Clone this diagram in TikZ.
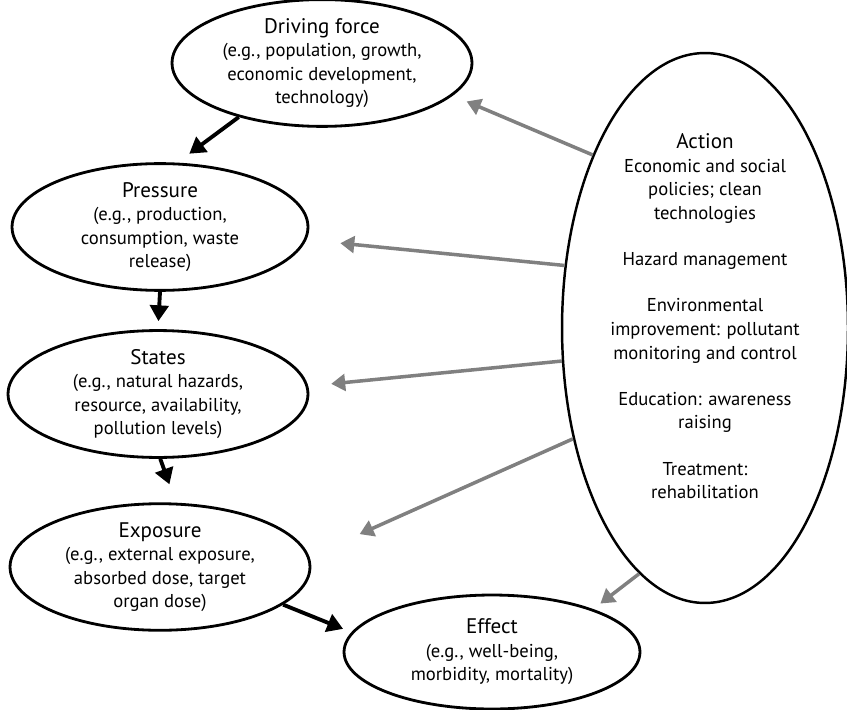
\documentclass[tikz,border=0pt]{standalone}
\usepackage{fontspec}
\setmainfont{PT Sans}
\usetikzlibrary{shapes.geometric, arrows.meta}
\definecolor{arrowgray}{RGB}{128, 128, 128}
\newcommand{\ttl}[1]{{\fontsize{12}{13.4}\selectfont #1}}

\begin{document}
\begin{tikzpicture}[x=0.02cm, y=-0.02cm,
    stage/.style={ellipse, draw, line width=1.6pt, inner sep=0pt, align=center,
        font=\fontsize{10.6}{13.4}\selectfont},
    flow/.style={line width=2.2pt, -{Triangle[length=9pt, width=10.5pt]}},
    act/.style={line width=2pt, draw=arrowgray, -{Triangle[length=8pt, width=9.5pt]}}]
        % 画像の大きさ
        \useasboundingbox (0,0) rectangle (847,709);
        % 左側の段階
        \node[stage, minimum width=6cm, minimum height=2.32cm] (driving) at (322,63)
            {\ttl{Driving force}\\(e.g., population, growth,\\economic development,\\technology)};
        \node[stage, minimum width=5.92cm, minimum height=2.32cm] (pressure) at (160,227)
            {\ttl{Pressure}\\(e.g., production,\\consumption, waste\\release)};
        \node[stage, minimum width=6cm, minimum height=2.36cm] (states) at (158,394)
            {\ttl{States}\\(e.g., natural hazards,\\resource, availability,\\pollution levels)};
        \node[stage, minimum width=6cm, minimum height=2.2cm] (exposure) at (160,567)
            {\ttl{Exposure}\\(e.g., external exposure,\\absorbed dose, target\\organ dose)};
        \node[stage, minimum width=5.92cm, minimum height=2.28cm] (effect) at (492,652)
            {\ttl{Effect}\\(e.g., well-being,\\morbidity, mortality)};
        % 右側の Action（文字を少し上に）
        \node[stage, line width=1.4pt, minimum width=5.72cm, minimum height=9.68cm] (action) at (705,328)
            {\ttl{Action}\\Economic and social\\policies; clean\\technologies\\[13pt]
             Hazard management\\[13pt]
             Environmental\\improvement: pollutant\\monitoring and control\\[13pt]
             Education: awareness\\raising\\[13pt]
             Treatment:\\rehabilitation\\\mbox{}};
        % 黒い矢印
        \draw[flow, shorten >=0.3cm] (driving.213) -- (pressure.75);
        \draw[flow, shorten >=0.16cm] (pressure.south) -- (states.north);
        \draw[flow, shorten >=0.39cm] (states.-88) -- (exposure.76);
        \draw[flow, shorten >=0.18cm] (exposure.-17) -- (effect.172);
        % 灰色の矢印
        \draw[act, shorten >=0.3cm] (action.123) -- (driving.-14);
        \draw[act, shorten >=0.68cm] (action.156) -- (pressure.-5);
        \draw[act, shorten >=0.46cm] (action.193) -- (states.3);
        \draw[act, shorten >=1.1cm] (action.220) -- (exposure.4);
        \draw[act, shorten >=0.18cm] (action.255) -- (effect.23);
\end{tikzpicture}
\end{document}
